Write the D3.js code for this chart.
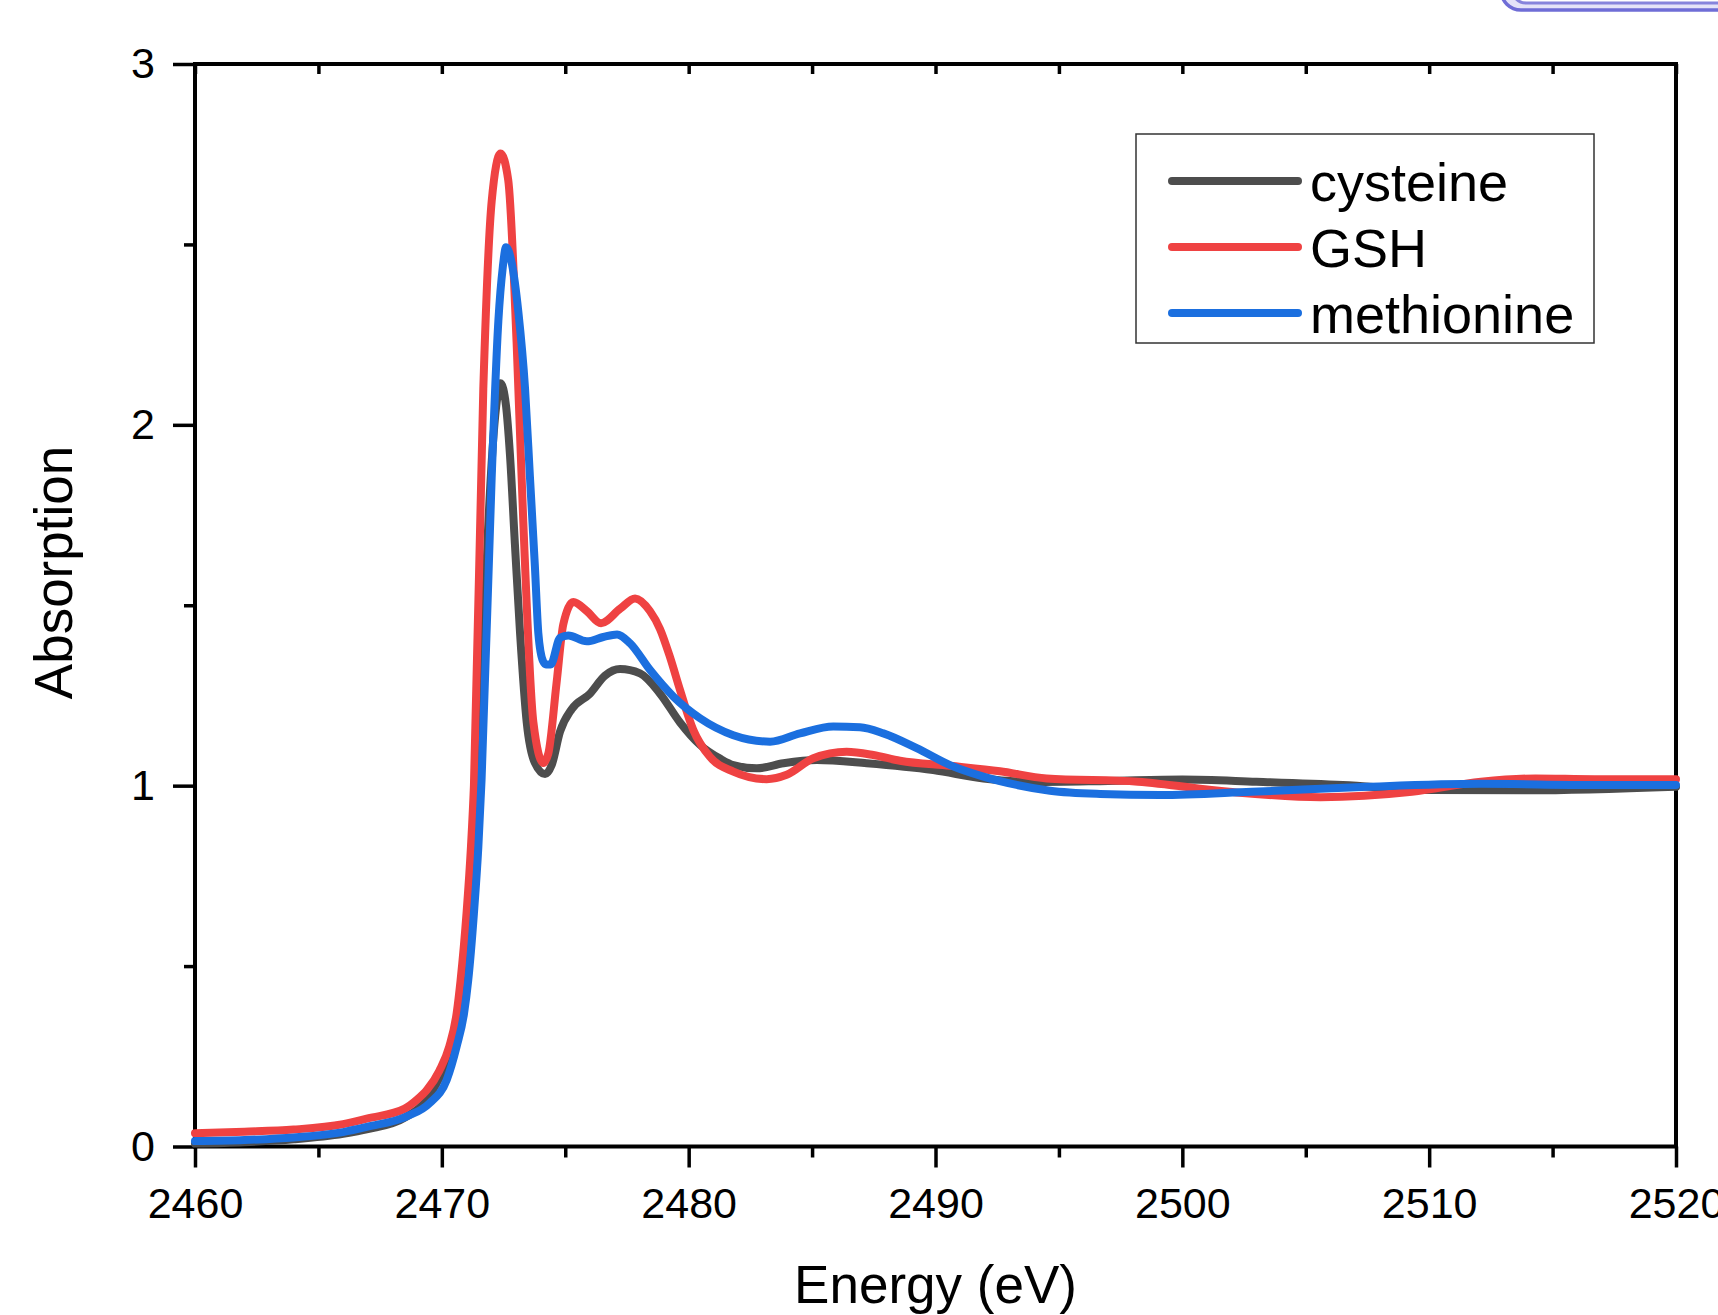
<!DOCTYPE html>
<html>
<head>
<meta charset="utf-8">
<script src="https://cdn.jsdelivr.net/npm/d3@7"></script>
<style>
  body { margin: 0; background: #fff; }
  svg { display: block; font-family: "Liberation Sans", Arial, Helvetica, sans-serif; }
</style>
</head>
<body>
<div id="chart"></div>
<script>
const seriesNames = ["cysteine", "GSH", "methionine"]
const seriesColors = ["#4d4d4d", "#ef4242", "#1b6fdf"]

const xTicks = [2460, 2470, 2480, 2490, 2500, 2510, 2520]
const xMinorTicks = [2465, 2475, 2485, 2495, 2505, 2515]
const yTicks = [0, 1, 2, 3]
const yMinorTicks = [0.5, 1.5, 2.5]

const cysteineEnergy = [2460, 2462, 2464, 2466, 2467, 2468.5, 2469.4, 2469.9, 2470.3, 2470.7, 2470.9, 2471.15, 2471.35, 2471.5, 2471.9, 2472.2, 2472.38, 2472.6, 2472.76, 2472.96, 2473.17, 2473.44, 2473.77, 2474.18, 2474.45, 2474.79, 2475.26, 2476.0, 2476.61, 2477.22, 2478.03, 2478.84, 2479.65, 2480.46, 2481.27, 2481.81, 2482.76, 2483.84, 2485.19, 2487.21, 2489.91, 2491.94, 2494, 2497, 2500, 2503, 2506.5, 2510, 2514, 2520]
const cysteineAbs = [0.008, 0.012, 0.02, 0.035, 0.048, 0.08, 0.13, 0.19, 0.25, 0.36, 0.46, 0.65, 0.85, 1.02, 1.75, 2.05, 2.115, 2.053, 1.917, 1.67, 1.422, 1.175, 1.063, 1.032, 1.057, 1.15, 1.212, 1.255, 1.305, 1.323, 1.311, 1.255, 1.175, 1.113, 1.075, 1.057, 1.048, 1.062, 1.071, 1.062, 1.043, 1.02, 1.01, 1.013, 1.017, 1.011, 1.002, 0.988, 0.987, 0.997]

const gshEnergy = [2460, 2462, 2464, 2466, 2467, 2468.5, 2469, 2469.4, 2469.9, 2470.3, 2470.6, 2470.76, 2471.0, 2471.18, 2471.3, 2471.68, 2472.02, 2472.38, 2472.69, 2473.03, 2473.3, 2473.71, 2474.11, 2474.31, 2474.65, 2474.92, 2475.33, 2475.87, 2476.45, 2477.22, 2477.83, 2478.43, 2478.84, 2479.24, 2479.65, 2480.19, 2480.86, 2481.81, 2483.16, 2483.97, 2485.05, 2486.4, 2487.48, 2488.56, 2490.59, 2492.61, 2494.5, 2498.2, 2501.9, 2505.6, 2509.3, 2512.1, 2514.3, 2516.7, 2520]
const gshAbs = [0.037, 0.041, 0.047, 0.062, 0.078, 0.105, 0.13, 0.157, 0.21, 0.277, 0.369, 0.461, 0.646, 0.831, 1.0, 2.1, 2.62, 2.752, 2.678, 2.227, 1.731, 1.175, 1.063, 1.088, 1.286, 1.447, 1.509, 1.484, 1.45, 1.49, 1.519, 1.484, 1.434, 1.357, 1.265, 1.154, 1.08, 1.039, 1.018, 1.03, 1.076, 1.094, 1.085, 1.069, 1.055, 1.04, 1.02, 1.011, 0.983, 0.968, 0.983, 1.011, 1.02, 1.018, 1.018]

const methionineEnergy = [2460, 2462, 2464, 2466, 2467, 2468.56, 2469.5, 2470.2, 2470.6, 2470.9, 2471.07, 2471.3, 2471.48, 2471.61, 2472.02, 2472.29, 2472.47, 2472.6, 2472.83, 2473.1, 2473.37, 2473.57, 2473.77, 2473.91, 2474.1, 2474.22, 2474.41, 2474.79, 2475.12, 2475.87, 2476.54, 2477.1, 2477.62, 2478.43, 2479.38, 2480.46, 2481.81, 2483.3, 2484.51, 2485.86, 2486.94, 2487.89, 2489.24, 2490.59, 2491.94, 2493.29, 2494.64, 2496.67, 2499.1, 2502.8, 2507.5, 2512.1, 2516.7, 2520]
const methionineAbs = [0.015, 0.018, 0.025, 0.04, 0.055, 0.083, 0.12, 0.185, 0.277, 0.369, 0.461, 0.646, 0.831, 1.016, 1.855, 2.288, 2.437, 2.492, 2.449, 2.313, 2.102, 1.855, 1.608, 1.422, 1.345, 1.336, 1.336, 1.41, 1.416, 1.4, 1.412, 1.419, 1.395, 1.321, 1.247, 1.187, 1.14, 1.122, 1.145, 1.164, 1.162, 1.145, 1.104, 1.057, 1.025, 1.002, 0.986, 0.977, 0.974, 0.983, 0.997, 1.005, 1.002, 1.002]

const series = [
  { name: seriesNames[0], color: seriesColors[0], values: cysteineEnergy.map((e, i) => ({ e, a: cysteineAbs[i] })) },
  { name: seriesNames[1], color: seriesColors[1], values: gshEnergy.map((e, i) => ({ e, a: gshAbs[i] })) },
  { name: seriesNames[2], color: seriesColors[2], values: methionineEnergy.map((e, i) => ({ e, a: methionineAbs[i] })) }
]

const W = 1718
const H = 1315
const margin = { top: 64, right: 42, bottom: 168.5, left: 195 }
const width = W - margin.left - margin.right
const height = H - margin.top - margin.bottom

const svg = d3.select("#chart")
  .append("svg")
  .attr("width", W)
  .attr("height", H)

// cropped frame of a neighbouring panel at the top right
svg.append("rect")
  .attr("x", 1501).attr("y", -60)
  .attr("width", 300).attr("height", 70)
  .attr("rx", 20)
  .attr("fill", "#e4e3f8")
  .attr("stroke", "#6f6dd6")
  .attr("stroke-width", 3.5)
svg.append("rect")
  .attr("x", 1512).attr("y", -60)
  .attr("width", 300).attr("height", 63)
  .attr("rx", 14)
  .attr("fill", "#fff")
  .attr("stroke", "#8684dc")
  .attr("stroke-width", 3)

const g = svg.append("g")
  .attr("transform", `translate(${margin.left},${margin.top})`)

const x = d3.scaleLinear().domain([2460, 2520]).range([0, width])
const y = d3.scaleLinear().domain([0, 3]).range([height, 0])

const styleAxis = sel => {
  sel.select(".domain").remove()
  sel.selectAll(".tick line").attr("stroke", "#000").attr("stroke-width", 3.5)
  sel.selectAll(".tick text").attr("fill", "#000").attr("font-size", 43)
}

g.append("g")
  .attr("transform", `translate(0,${height})`)
  .call(d3.axisBottom(x).tickValues(xMinorTicks).tickSize(11).tickFormat(""))
  .call(styleAxis)

g.append("g")
  .attr("transform", `translate(0,${height})`)
  .call(d3.axisBottom(x).tickValues(xTicks).tickSize(21).tickPadding(20).tickFormat(d3.format("d")))
  .call(styleAxis)

g.append("g")
  .call(d3.axisTop(x).tickValues(xTicks.concat(xMinorTicks)).tickSize(-10).tickFormat(""))
  .call(styleAxis)

g.append("g")
  .call(d3.axisLeft(y).tickValues(yMinorTicks).tickSize(11).tickFormat(""))
  .call(styleAxis)

g.append("g")
  .call(d3.axisLeft(y).tickValues(yTicks).tickSize(22).tickPadding(18).tickFormat(d3.format("d")))
  .call(styleAxis)

g.append("rect")
  .attr("width", width)
  .attr("height", height)
  .attr("fill", "none")
  .attr("stroke", "#000")
  .attr("stroke-width", 4)

const line = d3.line()
  .x(d => x(d.e))
  .y(d => y(d.a))
  .curve(d3.curveMonotoneX)

g.append("g")
  .selectAll("path")
  .data(series)
  .join("path")
  .attr("d", d => line(d.values))
  .attr("fill", "none")
  .attr("stroke", d => d.color)
  .attr("stroke-width", 8)
  .attr("stroke-linejoin", "round")
  .attr("stroke-linecap", "round")

svg.append("text")
  .attr("x", margin.left + width / 2)
  .attr("y", 1303)
  .attr("text-anchor", "middle")
  .attr("font-size", 53)
  .text("Energy (eV)")

svg.append("text")
  .attr("transform", `translate(72,572.5) rotate(-90)`)
  .attr("text-anchor", "middle")
  .attr("font-size", 53)
  .text("Absorption")

const legend = svg.append("g")

legend.append("rect")
  .attr("x", 1136).attr("y", 134)
  .attr("width", 458).attr("height", 209)
  .attr("fill", "#fff")
  .attr("stroke", "#333")
  .attr("stroke-width", 1.5)

const items = legend.selectAll("g.item")
  .data(series)
  .join("g")
  .attr("class", "item")
  .attr("transform", (d, i) => `translate(0,${181 + i * 66})`)

items.append("line")
  .attr("x1", 1172).attr("x2", 1298)
  .attr("stroke", d => d.color)
  .attr("stroke-width", 8)
  .attr("stroke-linecap", "round")

items.append("text")
  .attr("x", 1310)
  .attr("y", 20)
  .attr("font-size", 54)
  .text(d => d.name)
</script>
</body>
</html>
